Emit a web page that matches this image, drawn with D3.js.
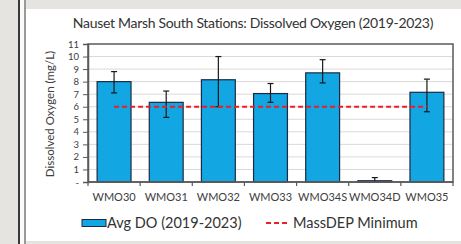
<!DOCTYPE html>
<html>
<head>
<meta charset="utf-8">
<script src="https://cdn.jsdelivr.net/npm/d3@7"></script>
<style>
  html, body { margin: 0; padding: 0; background: #fff; }
  svg { display: block; }
  text { font-family: Lato, "Open Sans", sans-serif; }
</style>
</head>
<body>
<svg id="chart" width="461" height="244"></svg>
<script>
const categories = ["WMO30", "WMO31", "WMO32", "WMO33", "WMO34S", "WMO34D", "WMO35"];
const avgDO = [8.0, 6.35, 8.15, 7.05, 8.7, 0.1, 7.15];
const errLow = [7.1, 5.15, 6.0, 6.35, 7.9, 0.0, 5.6];
const errHigh = [8.8, 7.25, 10.0, 7.85, 9.75, 0.35, 8.2];
const massDEPMin = 6;
const yTicks = [0, 1, 2, 3, 4, 5, 6, 7, 8, 9, 10, 11];
const yTickLabels = ["-", "1", "2", "3", "4", "5", "6", "7", "8", "9", "10", "11"];
const title = "Nauset Marsh South Stations:  Dissolved Oxygen (2019-2023)";
const yTitle = "Dissolved Oxygen (mg/L)";
const legendLabels = ["Avg DO (2019-2023)", "MassDEP Minimum"];

const svg = d3.select("#chart");
const W = 461, H = 244;
const plot = { left: 88, right: 453, top: 44, bottom: 182 };

// background: marble strip + panel
svg.append("rect").attr("x", 0).attr("y", 0).attr("width", W).attr("height", H).attr("fill", "#e6e4e0");
svg.append("rect").attr("x", 26).attr("y", 9).attr("width", W - 26).attr("height", 232).attr("fill", "#ffffff");
svg.append("rect").attr("x", 18).attr("y", 0).attr("width", 2).attr("height", H).attr("fill", "#3a3a3a");
svg.append("rect").attr("x", 20).attr("y", 0).attr("width", 4).attr("height", H).attr("fill", "#fafafa");
svg.append("rect").attr("x", 24).attr("y", 0).attr("width", 2).attr("height", H).attr("fill", "#9a9a9a");
svg.append("rect").attr("x", 26).attr("y", 241).attr("width", W - 26).attr("height", 1).attr("fill", "#e2e2e2");

const x = d3.scaleBand().domain(categories).range([plot.left, plot.right]).paddingInner(0.35).paddingOuter(0.175);
const xTickScale = d3.scaleBand().domain(categories).range([plot.left, plot.right]);
const y = d3.scaleLinear().domain([0, 11]).range([plot.bottom, plot.top]);

// gridlines
svg.append("g").selectAll("line").data(yTicks.filter(d => d > 0 && d < 11)).join("line")
  .attr("x1", plot.left).attr("x2", plot.right)
  .attr("y1", d => y(d)).attr("y2", d => y(d))
  .attr("stroke", "#d9d9d9").attr("stroke-width", 1);

// bars
svg.append("g").selectAll("rect").data(categories).join("rect")
  .attr("x", d => x(d)).attr("width", x.bandwidth())
  .attr("y", (d, i) => y(avgDO[i])).attr("height", (d, i) => y(0) - y(avgDO[i]))
  .attr("fill", "#12a6e2").attr("stroke", "#1c2a44").attr("stroke-width", 1.2);

// error bars
const eg = svg.append("g").attr("stroke", "#1a1a1a").attr("stroke-width", 1.2);
categories.forEach((c, i) => {
  const cx = x(c) + x.bandwidth() / 2;
  eg.append("line").attr("x1", cx).attr("x2", cx).attr("y1", y(errLow[i])).attr("y2", y(errHigh[i]));
  eg.append("line").attr("x1", cx - 3).attr("x2", cx + 3).attr("y1", y(errLow[i])).attr("y2", y(errLow[i]));
  eg.append("line").attr("x1", cx - 3).attr("x2", cx + 3).attr("y1", y(errHigh[i])).attr("y2", y(errHigh[i]));
});

// MassDEP line
const first = categories[0], last = categories[categories.length - 1];
svg.append("line")
  .attr("x1", x(first) + x.bandwidth() / 2).attr("x2", x(last) + x.bandwidth() / 2)
  .attr("y1", y(massDEPMin)).attr("y2", y(massDEPMin))
  .attr("stroke", "#ee1c24").attr("stroke-width", 2).attr("stroke-dasharray", "5,3");

// plot frame
svg.append("rect").attr("x", plot.left).attr("y", plot.top)
  .attr("width", plot.right - plot.left).attr("height", plot.bottom - plot.top)
  .attr("fill", "none").attr("stroke", "#595959").attr("stroke-width", 1.5);

// y axis
const yAxis = d3.axisLeft(y).tickValues(yTicks).tickFormat((d, i) => yTickLabels[i]).tickSize(5).tickPadding(4);
const yg = svg.append("g").attr("transform", `translate(${plot.left},0)`).call(yAxis);
yg.select(".domain").attr("stroke", "#595959").attr("stroke-width", 1.5);
yg.selectAll(".tick line").attr("stroke", "#595959");
yg.selectAll(".tick text").attr("fill", "#404040").style("font-size", "9.5px").style("font-family", "Lato, sans-serif");

// x axis (ticks at category boundaries)
const xg = svg.append("g").attr("transform", `translate(0,${plot.bottom})`);
xg.append("line").attr("x1", plot.left).attr("x2", plot.right).attr("stroke", "#595959").attr("stroke-width", 1.5);
const bounds = categories.map(c => xTickScale(c)).concat([plot.right]);
xg.selectAll("line.b").data(bounds).join("line").attr("class", "b")
  .attr("x1", d => d).attr("x2", d => d).attr("y1", 0).attr("y2", 4)
  .attr("stroke", "#595959").attr("stroke-width", 1.2);
xg.selectAll("text").data(categories).join("text")
  .attr("x", d => xTickScale(d) + xTickScale.bandwidth() / 2).attr("y", 19)
  .attr("text-anchor", "middle").attr("fill", "#404040")
  .style("font-size", "11px").text(d => d);

// title
svg.append("text").attr("x", 253).attr("y", 28).attr("text-anchor", "middle")
  .attr("fill", "#333").style("font-size", "14px").style("letter-spacing", "-0.3px").text(title);

// y title
svg.append("text").attr("transform", `translate(54,${(plot.top + plot.bottom) / 2 + 1}) rotate(-90)`)
  .attr("text-anchor", "middle").attr("fill", "#404040").style("font-size", "11.5px").text(yTitle);

// legend
const lg = svg.append("g");
lg.append("rect").attr("x", 82).attr("y", 219.5).attr("width", 24).attr("height", 7)
  .attr("fill", "#12a6e2").attr("stroke", "#1c2a44").attr("stroke-width", 1);
lg.append("text").attr("x", 107).attr("y", 228).attr("fill", "#333").style("font-size", "14.5px").text(legendLabels[0]);
lg.append("line").attr("x1", 266).attr("x2", 288).attr("y1", 223).attr("y2", 223)
  .attr("stroke", "#ee1c24").attr("stroke-width", 2).attr("stroke-dasharray", "5,3");
lg.append("text").attr("x", 293).attr("y", 228).attr("fill", "#333").style("font-size", "14.5px").text(legendLabels[1]);
</script>
</body>
</html>
